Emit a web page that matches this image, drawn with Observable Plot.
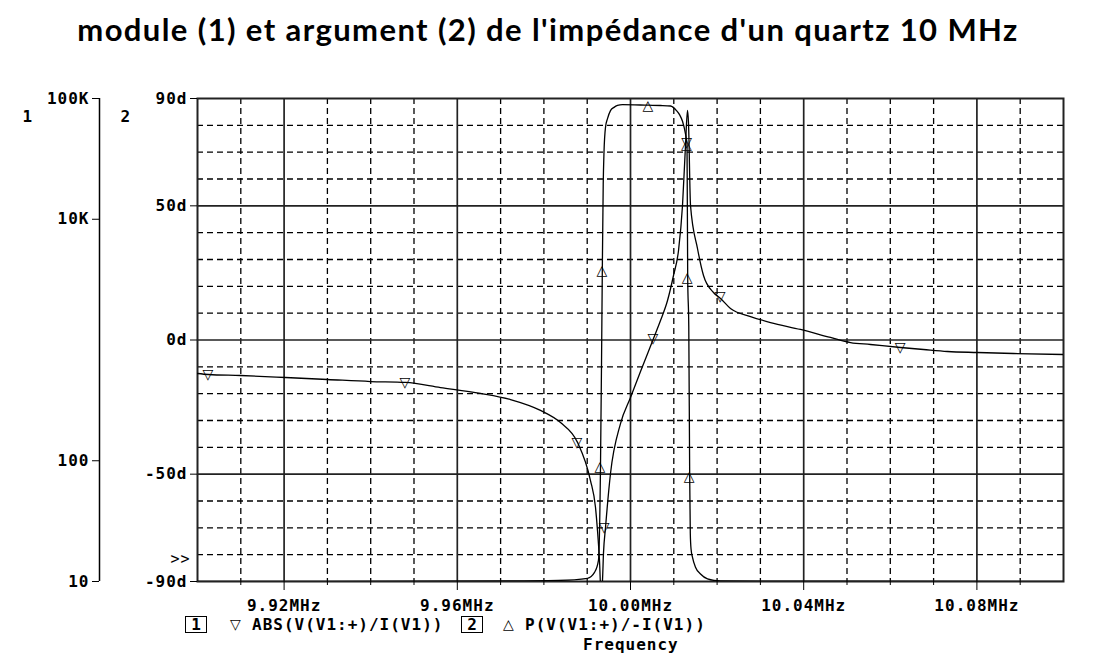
<!DOCTYPE html>
<html><head><meta charset="utf-8">
<script src="https://cdn.jsdelivr.net/npm/d3@7"></script>
<script src="https://cdn.jsdelivr.net/npm/@observablehq/plot@0.6"></script>
<style>
html,body{margin:0;padding:0;background:#fff;}
body{width:1112px;height:669px;position:relative;overflow:hidden;}
#title{position:absolute;top:12px;left:548px;transform:translateX(-50%);white-space:nowrap;font-family:Lato,"Open Sans",sans-serif;font-weight:bold;font-size:31px;letter-spacing:1.4px;line-height:34px;color:#000;}
#chart{position:absolute;left:0;top:60px;width:1112px;height:555px;}
#chart svg{position:absolute;left:0;top:0;}
.leg{position:absolute;font-family:"DejaVu Sans Mono",monospace;font-weight:bold;font-size:16px;letter-spacing:1px;line-height:17px;color:#000;white-space:nowrap;}
.box{border:1.5px solid #000;width:20px;height:15px;text-align:center;line-height:15px;letter-spacing:0;}
.sym{font-family:"DejaVu Sans",sans-serif;font-weight:normal;font-size:14px;}
</style>
</head><body>
<div id="title">module (1) et argument (2) de l'impédance d'un quartz 10 MHz</div>
<div id="chart"></div>
<div class="leg box" style="left:185px;top:616px;">1</div>
<div class="leg sym" style="left:230px;top:616px;">▽</div>
<div class="leg" style="left:252px;top:616px;">ABS(V(V1:+)/I(V1))</div>
<div class="leg box" style="left:461px;top:616px;">2</div>
<div class="leg sym" style="left:503px;top:616px;">△</div>
<div class="leg" style="left:525px;top:616px;">P(V(V1:+)/-I(V1))</div>
<div class="leg" style="left:583px;top:636px;">Frequency</div>
<script>
// ---- axis ticks ----
const freqTicks = [9.92, 9.96, 10.00, 10.04, 10.08];
const freqMinor = [9.91, 9.93, 9.94, 9.95, 9.97, 9.98, 9.99, 10.01, 10.02, 10.03, 10.05, 10.06, 10.07, 10.09];
const phaseTicks = [90, 50, 0, -50, -90];
const phaseSolid = [50, 0, -50];
const phaseMinor = [80, 70, 60, 40, 30, 20, 10, -10, -20, -30, -40, -60, -70, -80];
const magTicks = [100000, 10000, 100, 10];
const magTickLabels = ["100K", "10K", "100", "10"];

// ---- trace 1 : |Z| (ohms) vs frequency (MHz) ----
const magFreq = [9.90000, 9.90254, 9.90993, 9.92032, 9.93002, 9.93995, 9.94804, 9.95612, 9.96536, 9.97229,
  9.97921, 9.98383, 9.98776, 9.99076, 9.99192, 9.99238, 9.99284, 9.99319, 9.99353, 9.99376,
  9.99423, 9.99538, 9.99769, 10.00000, 10.00231, 10.00531, 10.00693, 10.00855, 10.00993, 10.01109,
  10.01201, 10.01270, 10.01316, 10.01339, 10.01386, 10.01547, 10.01686, 10.01917, 10.02079, 10.02309,
  10.02771, 10.03233, 10.03926, 10.04619, 10.05081, 10.05543, 10.06236, 10.06767, 10.07321, 10.08014,
  10.08845, 10.10000];
const magValue = [528, 518, 508, 489, 471, 453, 445, 404, 361, 321,
  261, 207, 142, 68.6, 41.0, 26.4, 14.9, 8, 10.2, 17.1,
  28.0, 78.4, 203, 334, 548, 1029, 1450, 2124, 3421, 5512,
  13000, 40800, 79600, 63300, 13000, 5725, 3421, 2474, 2207, 1823,
  1565, 1396, 1222, 1049, 953, 918, 867, 834, 803, 788,
  773, 758];
const magMarkFreq = [9.90254, 9.94804, 9.98776, 9.99400, 10.00531, 10.01310, 10.02079, 10.06236];
const magMarkValue = [518, 445, 142, 28, 1029, 43300, 2280, 870];

// ---- trace 2 : phase (degrees) vs frequency (MHz) ----
const phaseFreq = [9.90000, 9.97229, 9.98337, 9.99007, 9.99169, 9.99261, 9.99307, 9.99330, 9.99349, 9.99370,
  9.99388, 9.99423, 9.99469, 9.99538, 9.99619, 9.99700, 9.99815, 10.00416, 10.00693, 10.00924,
  10.01062, 10.01132, 10.01201, 10.01270, 10.01305, 10.01321, 10.01346, 10.01367, 10.01381, 10.01399,
  10.01432, 10.01501, 10.01617, 10.01778, 10.02079, 10.10000];
const phaseValue = [-90, -89.8, -89.6, -88.8, -86.6, -82, -47.2, -10, 25.9, 58,
  70, 79.3, 82.5, 85.5, 86.7, 87.4, 87.7, 87.5, 87.4, 87.2,
  85.5, 84, 81.5, 76.8, 73, 23, 5, -51, -72, -78,
  -81, -84.7, -87.2, -89, -89.8, -90];
const phaseMarkFreq = [9.99307, 9.99349, 10.00416, 10.01305, 10.01321, 10.01367];
const phaseMarkValue = [-47.2, 25.9, 87.4, 73, 23.3, -50.9];

const fmtF = d => d.toFixed(2) + "MHz";
const common = {
  width: 1112, height: 555,
  marginTop: 38, marginRight: 49, marginBottom: 34, marginLeft: 197,
  style: {fontFamily: "'DejaVu Sans Mono', monospace", fontSize: "16px", fontWeight: "bold", letterSpacing: "1px", background: "transparent", color: "#000"}
};
const dash = {stroke: "#000", strokeWidth: 1.3, strokeDasharray: "6,4"};
const solid = {stroke: "#222", strokeWidth: 1.7};
const markStyle = {fontFamily: "DejaVu Sans", fontWeight: "bold", fontSize: 14, letterSpacing: 0, fill: "#000"};

const phasePlot = Plot.plot({
  ...common,
  x: {domain: [9.90, 10.10], axis: null},
  y: {domain: [-90, 90], axis: null},
  marks: [
    Plot.ruleX(freqMinor, dash),
    Plot.ruleY(phaseMinor, dash),
    Plot.ruleX(freqTicks, solid),
    Plot.ruleY(phaseSolid, solid),
    Plot.frame({stroke: "#222", strokeWidth: 2}),
    Plot.axisX(freqMinor, {tickSize: 4, tickFormat: () => "", label: null}),
    Plot.axisX(freqTicks, {tickSize: 9, tickPadding: 9, tickFormat: fmtF, label: null}),
    Plot.axisY(phaseTicks, {tickSize: 7, tickPadding: 3, tickFormat: d => d + "d", label: null}),
    Plot.line(phaseFreq, {x: d => d, y: (d, i) => phaseValue[i], stroke: "#000", strokeWidth: 1.3, curve: "monotone-x", clip: true}),
    Plot.text(phaseMarkFreq, {x: d => d, y: (d, i) => phaseMarkValue[i], text: () => "△", ...markStyle}),
    Plot.text(["1"], {frameAnchor: "top-left", dx: -175, dy: 12, fontSize: 16}),
    Plot.text(["2"], {frameAnchor: "top-left", dx: -77, dy: 12, fontSize: 16}),
    Plot.text([">>"], {frameAnchor: "bottom-left", dx: -27, dy: -18, fontWeight: "normal", fontSize: 15})
  ]
});

const magPlot = Plot.plot({
  ...common,
  x: {domain: [9.90, 10.10], axis: null},
  y: {type: "log", domain: [10, 100000], axis: null},
  marks: [
    Plot.ruleX([9.90], {dx: -98, stroke: "#000", strokeWidth: 1.5}),
    Plot.axisY(magTicks, {dx: -98, tickSize: 7, tickPadding: 3, tickFormat: d => magTickLabels[magTicks.indexOf(d)], label: null}),
    Plot.line(magFreq, {x: d => d, y: (d, i) => magValue[i], stroke: "#000", strokeWidth: 1.3, curve: "monotone-x", clip: true}),
    Plot.text(magMarkFreq, {x: d => d, y: (d, i) => magMarkValue[i], text: () => "▽", ...markStyle})
  ]
});

const c = document.getElementById("chart");
c.appendChild(phasePlot);
c.appendChild(magPlot);
</script>
</body></html>
